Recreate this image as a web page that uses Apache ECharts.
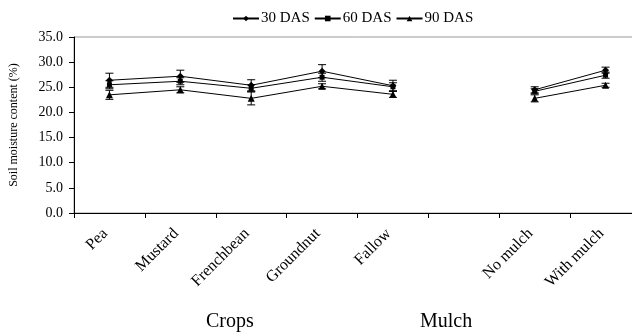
<!DOCTYPE html>
<html>
<head>
<meta charset="utf-8">
<script src="https://cdn.jsdelivr.net/npm/echarts@6/dist/echarts.min.js"></script>
<style>
  html, body { margin: 0; padding: 0; background: #fff; overflow: hidden; }
  /* the original plot runs past the right edge of the picture, so the chart is wider than the window */
  #chart { width: 641px; height: 333px; }
</style>
</head>
<body>
<div id="chart"></div>
<script>
// categories (blank one keeps the gap between crops and mulch)
const categories = ['Pea', 'Mustard', 'Frenchbean', 'Groundnut', 'Fallow', '', 'No mulch', 'With mulch'];
const seriesNames = ['30 DAS', '60 DAS', '90 DAS'];

// soil moisture content (%)
const das30 = [26.4, 27.2, 25.4, 28.2, 25.3, null, 24.5, 28.4];
const das60 = [25.5, 26.2, 24.8, 27.0, 25.1, null, 24.2, 27.4];
const das90 = [23.5, 24.5, 22.8, 25.2, 23.6, null, 22.8, 25.4];

// error bar half widths
const err30 = [1.4, 1.2, 1.1, 1.3, 1.1, null, 0.6, 0.6];
const err60 = [0.8, 0.7, 0.7, 0.8, 0.8, null, 0.5, 0.6];
const err90 = [0.9, 0.6, 1.3, 0.5, 0.6, null, 0.7, 0.4];

const yTicks = [0, 5, 10, 15, 20, 25, 30, 35];

const FONT = '"Liberation Serif", "Times New Roman", serif';
const chart = echarts.init(document.getElementById('chart'));

const toErrData = (vals, errs) => vals
    .map((v, i) => (v == null ? null : [i, v - errs[i], v + errs[i]]))
    .filter(d => d !== null);

const errRender = (params, api) => {
    const lo = api.coord([api.value(0), api.value(1)]);
    const hi = api.coord([api.value(0), api.value(2)]);
    const cap = 4;
    const style = { stroke: '#000', lineWidth: 1 };
    return {
        type: 'group',
        children: [
            { type: 'line', shape: { x1: lo[0], y1: lo[1], x2: hi[0], y2: hi[1] }, style },
            { type: 'line', shape: { x1: lo[0] - cap, y1: lo[1], x2: lo[0] + cap, y2: lo[1] }, style },
            { type: 'line', shape: { x1: hi[0] - cap, y1: hi[1], x2: hi[0] + cap, y2: hi[1] }, style }
        ]
    };
};

const symbols = ['diamond', 'rect', 'triangle'];
const sizes = [7, 5, 7];
const values = [das30, das60, das90];
const errs = [err30, err60, err90];

const lineSeries = seriesNames.map((name, k) => ({
    name,
    type: 'line',
    data: values[k],
    symbol: symbols[k],
    symbolSize: sizes[k],
    connectNulls: false,
    lineStyle: { color: '#000', width: 1 },
    itemStyle: { color: '#000' },
    z: 3
}));

const errSeries = seriesNames.map((name, k) => ({
    type: 'custom',
    renderItem: errRender,
    data: toErrData(values[k], errs[k]),
    z: 2,
    silent: true
}));

chart.setOption({
    animation: false,
    backgroundColor: '#fff',
    textStyle: { fontFamily: FONT, color: '#000' },
    legend: {
        data: seriesNames,
        top: 6,
        left: 227,
        itemWidth: 26,
        itemHeight: 7,
        itemGap: 4,
        textStyle: { fontFamily: FONT, fontSize: 15, color: '#000', padding: [0, 0, 0, -3] }
    },
    grid: {
        left: 70.5,
        right: 0,
        top: 37,
        bottom: 120,
        show: true,
        borderColor: '#999',
        borderWidth: 1
    },
    xAxis: {
        type: 'category',
        data: categories,
        boundaryGap: true,
        axisLine: { lineStyle: { color: '#000', width: 1 } },
        axisTick: { show: true, inside: false, length: 5, lineStyle: { color: '#000' } },
        axisLabel: {
            rotate: 45,
            interval: 0,
            margin: 14,
            padding: [0, 6, 0, 0],
            fontFamily: FONT,
            fontSize: 16,
            color: '#000'
        },
        splitLine: { show: false }
    },
    yAxis: {
        type: 'value',
        min: yTicks[0],
        max: yTicks[yTicks.length - 1],
        interval: 5,
        name: 'Soil moisture content (%)',
        nameLocation: 'middle',
        nameGap: 54,
        nameTextStyle: { fontFamily: FONT, fontSize: 12, color: '#000' },
        axisLine: { show: true, lineStyle: { color: '#000', width: 1 } },
        axisTick: { show: true, inside: false, length: 5, lineStyle: { color: '#000' } },
        axisLabel: {
            fontFamily: FONT,
            fontSize: 14,
            color: '#000',
            margin: 11,
            formatter: v => v.toFixed(1)
        },
        splitLine: { show: false }
    },
    graphic: [
        {
            type: 'text', left: 206, top: 312,
            style: { text: 'Crops', font: '20px ' + FONT, fill: '#000' }
        },
        {
            type: 'text', left: 420, top: 312,
            style: { text: 'Mulch', font: '20px ' + FONT, fill: '#000' }
        }
    ],
    series: [...errSeries, ...lineSeries]
});
</script>
</body>
</html>
